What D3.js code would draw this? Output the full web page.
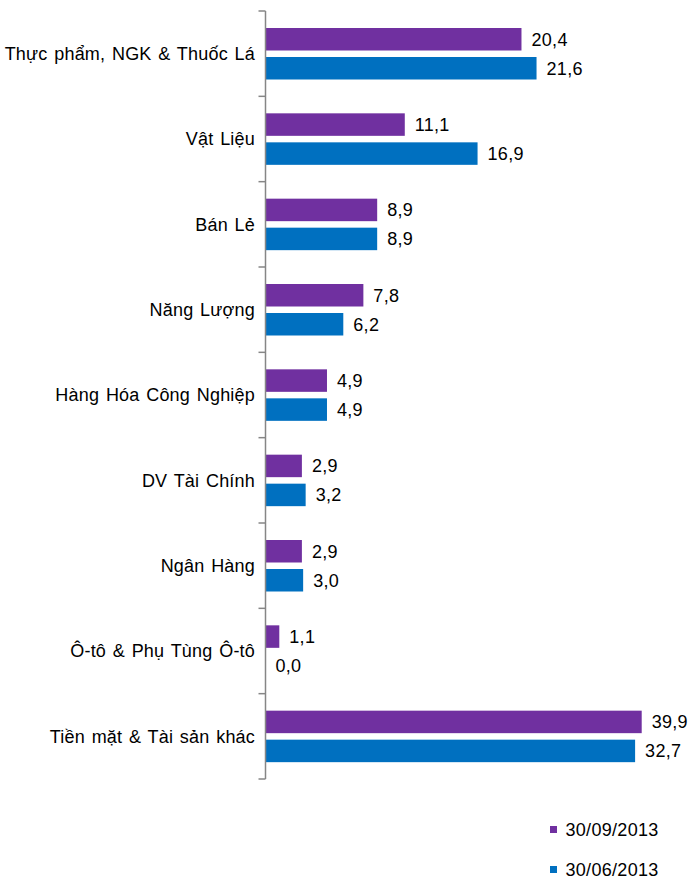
<!DOCTYPE html>
<html>
<head>
<meta charset="utf-8">
<script src="https://cdn.jsdelivr.net/npm/d3@7"></script>
<style>
  body { margin: 0; background: #fff; }
  text { font-family: "Liberation Sans", Arial, sans-serif; fill: #000; }
</style>
</head>
<body>
<div id="chart"></div>
<script>
(function() {
  'use strict';

  var categories = [
    "Thực phẩm, NGK & Thuốc Lá",
    "Vật Liệu",
    "Bán Lẻ",
    "Năng Lượng",
    "Hàng Hóa Công Nghiệp",
    "DV Tài Chính",
    "Ngân Hàng",
    "Ô-tô & Phụ Tùng Ô-tô",
    "Tiền mặt & Tài sản khác"
  ];
  var seriesNames = ["30/09/2013", "30/06/2013"];
  var sep2013 = [20.4, 11.1, 8.9, 7.8, 4.9, 2.9, 2.9, 1.1, 39.9];
  var jun2013 = [21.6, 16.9, 8.9, 6.2, 4.9, 3.2, 3.0, 0.0, 32.7];
  var colors = ["#7030A0", "#0070C0"];

  var width = 690, height = 876;
  var axisX = 265.5, top = 11, bottom = 779;

  var svg = d3.select("#chart")
    .append("svg")
    .attr("width", width)
    .attr("height", height);

  // category bands
  var y = d3.scaleBand()
    .domain(categories)
    .range([top, bottom]);

  // the largest bars are compressed in the source chart, hence a two-piece scale
  var x = d3.scaleLinear()
    .domain([0, 29.2, 39.9])
    .range([0, 366.4, 376.2]);

  var barH = 22.5, barGap = 6.5, barOff = 17;

  var series = [sep2013, jun2013];

  series.forEach(function(vals, s) {
    var g = svg.append("g").attr("class", "series-" + s);
    categories.forEach(function(cat, i) {
      var by = y(cat) + barOff + s * (barH + barGap);
      var w = x(vals[i]);
      g.append("rect")
        .attr("x", axisX)
        .attr("y", by)
        .attr("width", w)
        .attr("height", barH)
        .attr("fill", colors[s]);
      g.append("text")
        .attr("x", axisX + w + 10)
        .attr("y", by + barH / 2)
        .attr("dy", "0.35em")
        .attr("font-size", "18px")
        .attr("letter-spacing", "0.3px")
        .text(d3.format(".1f")(vals[i]).replace(".", ","));
    });
  });

  // vertical axis with outward ticks at the band edges
  var axisG = svg.append("g");
  axisG.append("line")
    .attr("x1", axisX).attr("x2", axisX)
    .attr("y1", top).attr("y2", bottom)
    .attr("stroke", "#868686")
    .attr("stroke-width", 1.5);
  var edges = categories.map(function(c) { return y(c); }).concat([bottom]);
  edges.forEach(function(ey) {
    axisG.append("line")
      .attr("x1", axisX - 7).attr("x2", axisX)
      .attr("y1", ey).attr("y2", ey)
      .attr("stroke", "#868686")
      .attr("stroke-width", 1.5);
  });

  categories.forEach(function(cat) {
    axisG.append("text")
      .attr("x", 255)
      .attr("y", y(cat) + y.bandwidth() / 2)
      .attr("dy", "0.35em")
      .attr("text-anchor", "end")
      .attr("font-size", "18px")
      .attr("word-spacing", "1.5px")
      .attr("letter-spacing", "0.2px")
      .text(cat);
  });

  // legend
  var legend = svg.append("g");
  seriesNames.forEach(function(name, i) {
    var ly = 829.5 + i * 40;
    legend.append("rect")
      .attr("x", 550)
      .attr("y", ly - 3.5)
      .attr("width", 7)
      .attr("height", 7)
      .attr("fill", colors[i]);
    legend.append("text")
      .attr("x", 565.5)
      .attr("y", ly)
      .attr("dy", "0.35em")
      .attr("font-size", "18px")
      .attr("letter-spacing", "0.3px")
      .text(name);
  });
})();
</script>
</body>
</html>
